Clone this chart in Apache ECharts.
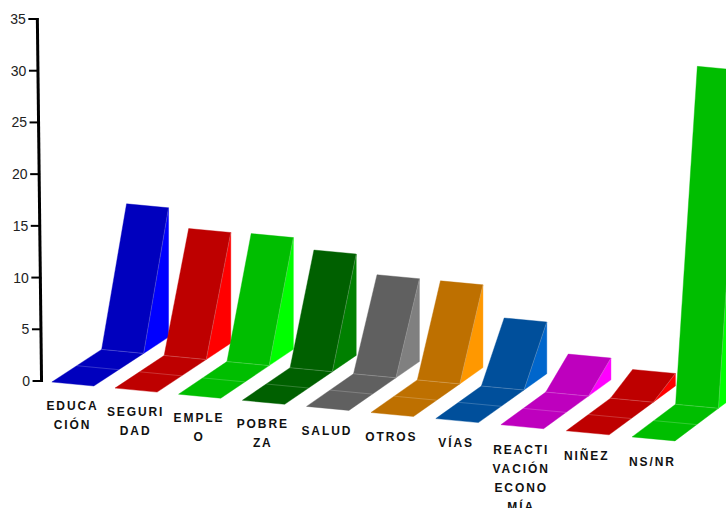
<!DOCTYPE html>
<html>
<head>
<meta charset="utf-8">
<style>
html,body{margin:0;padding:0;background:#fff}
#c{width:726px;height:508px}
#c text[style*="bold"]{letter-spacing:1.9px}
</style>
<script src="https://cdn.jsdelivr.net/npm/echarts@6/dist/echarts.min.js"></script>
</head>
<body>
<div id="c"></div>
<script>
const categories = ['EDUCA\nCIÓN','SEGURI\nDAD','EMPLE\nO','POBRE\nZA','SALUD','OTROS','VÍAS','REACTI\nVACIÓN\nECONO\nMÍA','NIÑEZ','NS/NR'];
const values = [12.5, 10.7, 10.8, 9.8, 8.0, 8.0, 5.0, 2.1, 1.2, 31.1];
const frontColors = ['#0000BE','#BE0000','#00BE00','#006000','#606060','#BE7000','#004F9B','#BE00BE','#BE0000','#00BE00'];
const sideColors = ['#0000FF','#FF0000','#00FF00','#008000','#808080','#FF9800','#0066CC','#FF00FF','#FF0000','#00FF00'];
const yTicks = [0,5,10,15,20,25,30,35];

const FONT = '"Liberation Sans", Arial, sans-serif';
const chart = echarts.init(document.getElementById('c'), null, {renderer:'svg'});

// projection of (band index i, across u 0..1, depth d 0..3, value v) to screen
function project(api, i, u, d, v){
  const c = api.coord([i, v]);
  const dx = 24.9 - 0.35*i;
  return [
    c[0] - 27 - 0.67*i + 0.16*i*i + u*(42 + 0.1*i) + d*dx,
    c[1] + 1 + 6.1*i + u*4 - d*16.3
  ];
}

function renderBar(params, api){
  const i = api.value(0), v = api.value(1);
  const p = (u,d,val)=>project(api,i,u,d,val);
  const front = frontColors[i], side = sideColors[i];
  const poly = (pts,fill)=>({type:'polygon',shape:{points:pts},style:{fill,stroke:fill,lineWidth:0.4}});
  const crease = (a,b)=>({type:'line',shape:{x1:a[0],y1:a[1],x2:b[0],y2:b[1]},style:{stroke:'rgba(255,255,255,0.2)',lineWidth:1}});
  const base = api.coord([i,0]);
  return {type:'group',children:[
    poly([p(1,2,0),p(1,3,v),p(1,3,0)],side),
    poly([p(0,0,0),p(1,0,0),p(1,2,0),p(0,2,0)],front),
    poly([p(0,2,0),p(1,2,0),p(1,3,v),p(0,3,v)],front),
    crease(p(0,1,0),p(1,1,0)),
    crease(p(0,2,0),p(1,2,0)),
    crease(p(1,2,0),p(1,3,v)),
    {type:'text',style:{text:categories[i],x:base[0]-6.3-0.8*i+0.17*i*i,y:base[1]+15+i*6.3,align:'center',verticalAlign:'top',
      fontFamily:FONT,fontWeight:'bold',fontSize:12,lineHeight:19,fill:'#111'}}
  ]};
}

// the leaning value axis: x drifts with the value
function leanX(api, v){ return api.coord([0,0])[0] - 37.3 - v/35*4.2; }

function renderAxis(params, api){
  const v = api.value(0);
  const y = api.coord([0,v])[1];
  const x = leanX(api, v);
  const children = [{type:'line',shape:{x1:x-9,y1:y,x2:x+1,y2:y},style:{stroke:'#000',lineWidth:2}}];
  if (params.dataIndex === 0) {
    const top = api.coord([0,35])[1];
    children.push({type:'line',shape:{x1:x,y1:y+1,x2:leanX(api,35),y2:top-1},style:{stroke:'#000',lineWidth:3}});
  }
  return {type:'group',children};
}

const yRich = {};
yTicks.forEach(v=>{ yRich['t'+v] = {padding:[0,v/35*4.2,0,0],fontSize:14,fontFamily:FONT,color:'#222'}; });

chart.setOption({
  animation:false,
  backgroundColor:'#fff',
  grid:{left:47,width:637,top:19,height:362,containLabel:false},
  xAxis:{type:'category',data:categories,boundaryGap:true,
    axisLine:{show:false},axisTick:{show:false},splitLine:{show:false},axisLabel:{show:false}},
  yAxis:{type:'value',min:0,max:35,interval:5,
    axisLine:{show:false},axisTick:{show:false},splitLine:{show:false},
    axisLabel:{margin:17,formatter:v=>`{t${v}|${v}}`,rich:yRich}},
  series:[
    {type:'custom',name:'valores',clip:false,renderItem:renderBar,encode:{x:0,y:1},data:values.map((v,i)=>[i,v])},
    {type:'custom',name:'eje',clip:false,renderItem:renderAxis,encode:{y:0},data:yTicks.map(v=>[v])}
  ]
});
</script>
</body>
</html>
